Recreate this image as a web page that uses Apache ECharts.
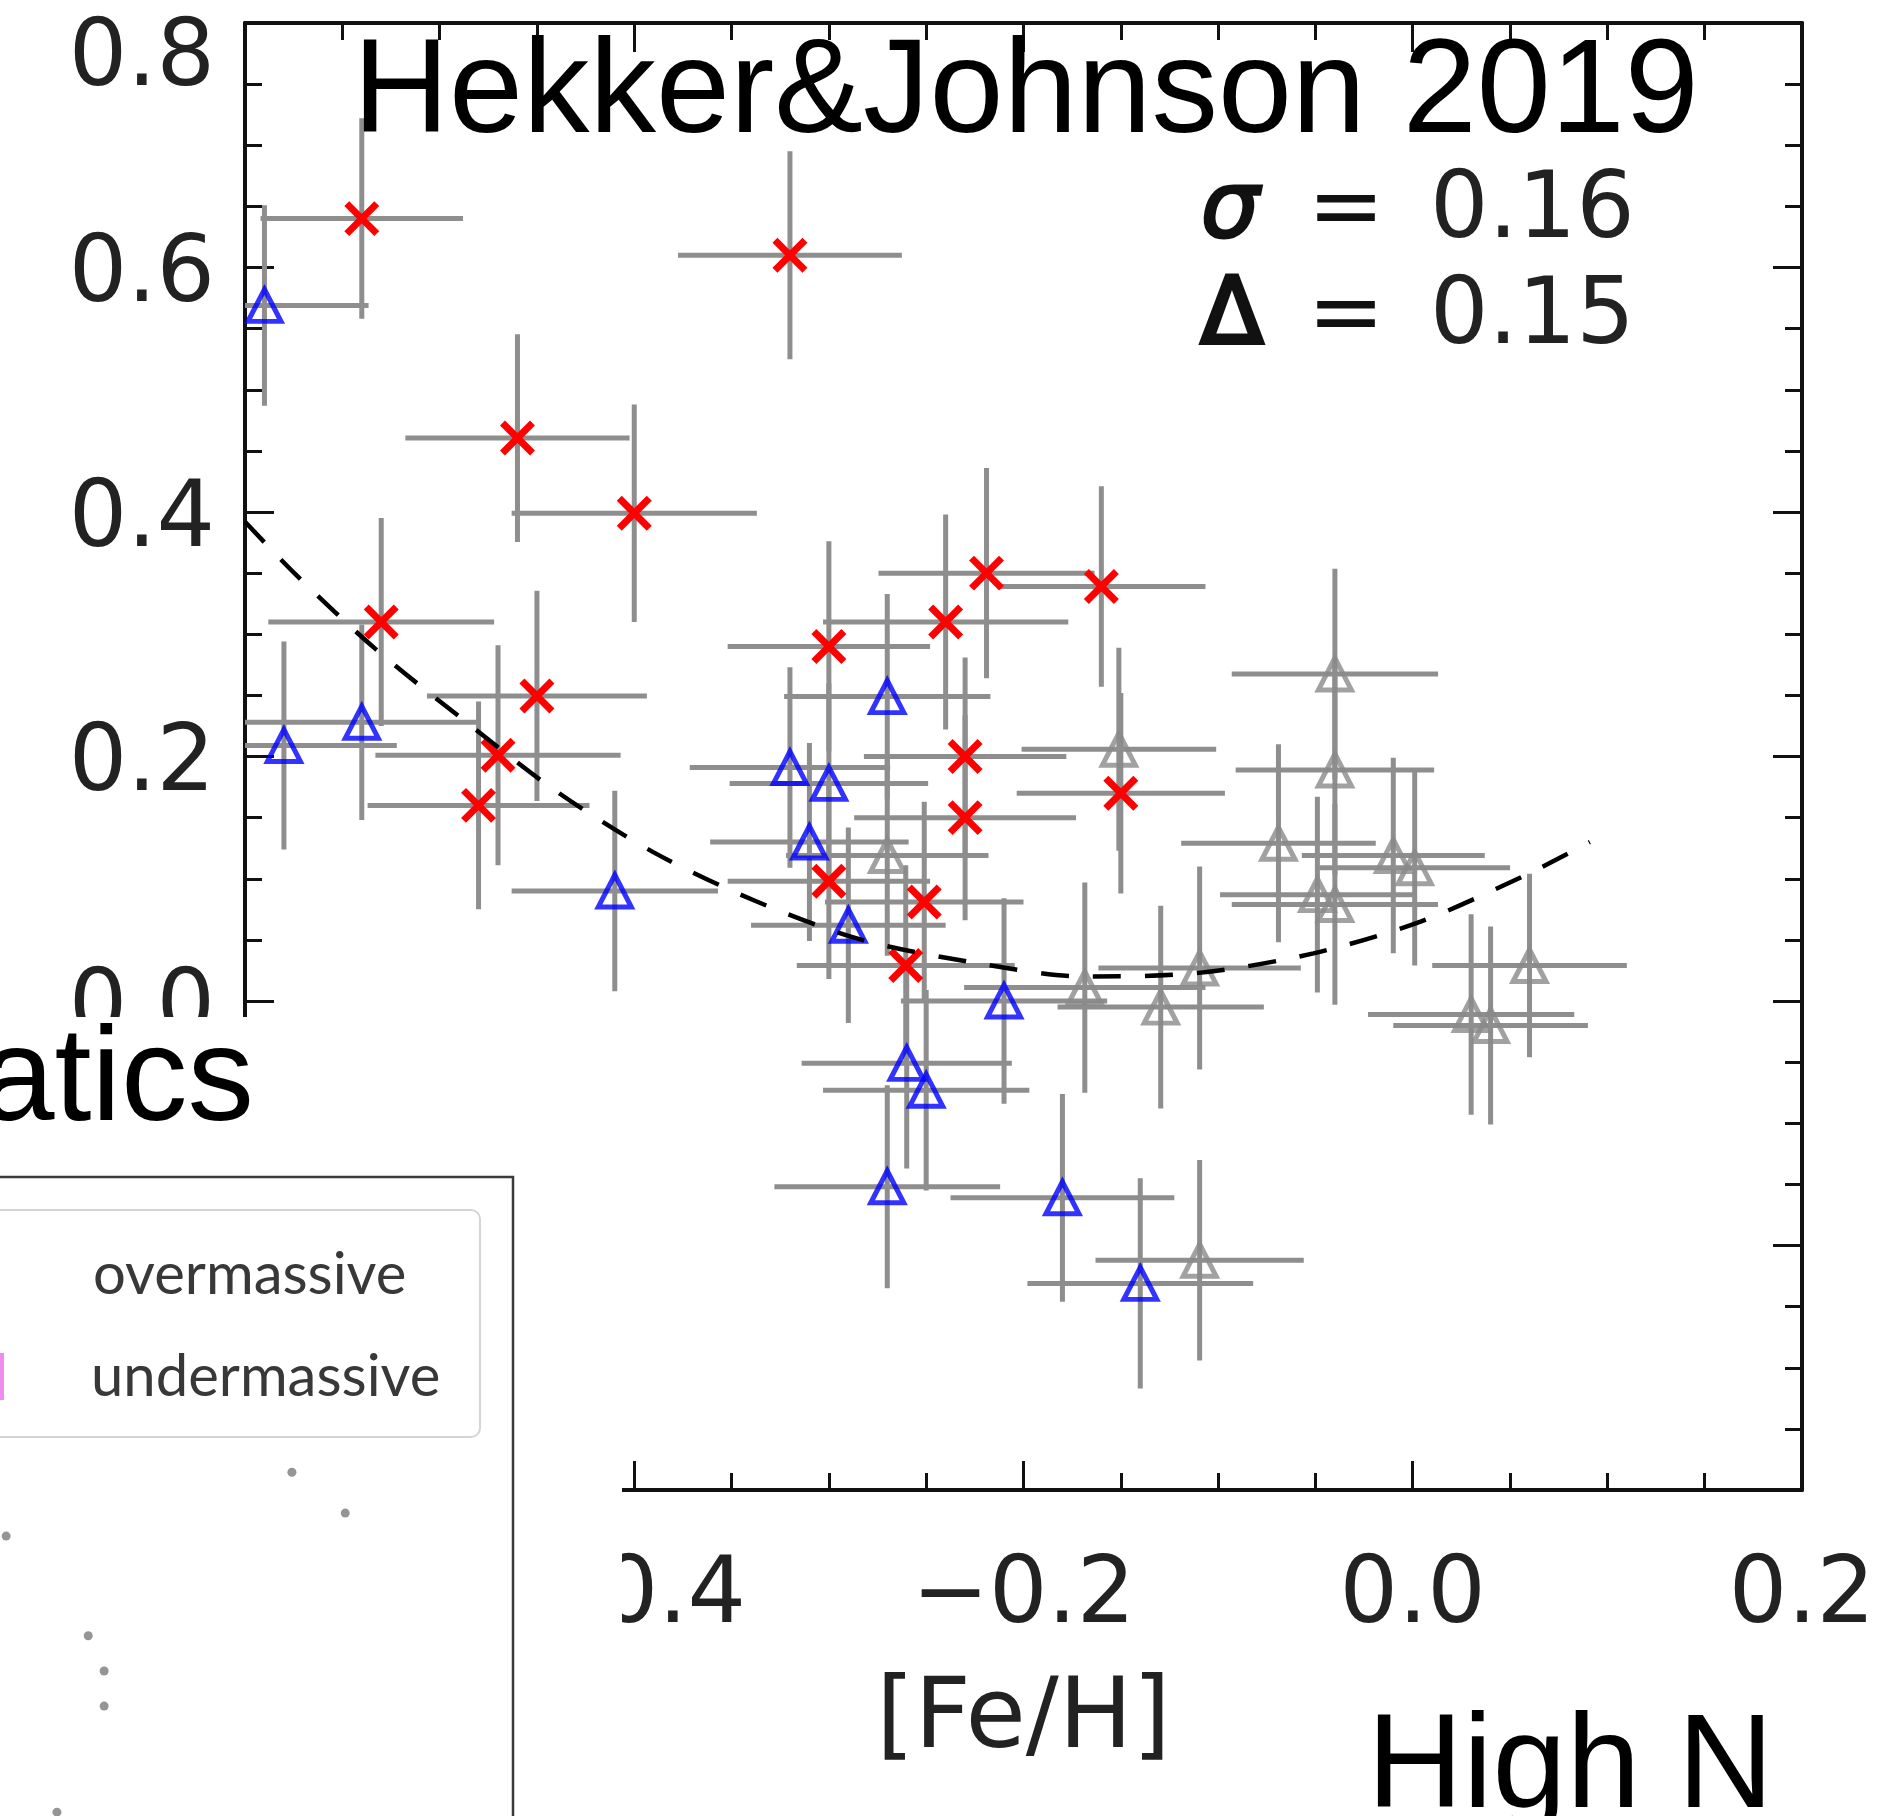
<!DOCTYPE html>
<html>
<head>
<meta charset="utf-8">
<script src="https://cdn.jsdelivr.net/npm/echarts@6/dist/echarts.min.js"></script>
<style>
html,body{margin:0;padding:0;background:#fff;}
#chart{width:1896px;height:1816px;}
</style>
</head>
<body>
<div id="chart"></div>
<script>
// ---- axis ranges / ticks ----
const X_MIN = -0.6, X_MAX = 0.2, X_STEP = 0.2;
const Y_MIN = -0.4, Y_MAX = 0.8, Y_STEP = 0.2;

// ---- overmassive (red crosses) ----
const redX    = [-0.540, -0.320, -0.460, -0.400, -0.530, -0.450, -0.470, -0.480, -0.219, -0.160, -0.240, -0.300, -0.300, -0.230, -0.230, -0.150, -0.251, -0.2605];
const redY    = [ 0.640,  0.610,  0.4605, 0.399,  0.310,  0.2495, 0.201,  0.160,  0.350,  0.339,  0.310,  0.290,  0.098,  0.200,  0.150,  0.170,  0.081,  0.029];
const redXErr = [ 0.052,  0.0575, 0.0576, 0.063,  0.058,  0.0565, 0.063,  0.057,  0.0555, 0.0535, 0.063,  0.052,  0.052,  0.052,  0.057,  0.0535, 0.051,  0.056];
const redYErr = [ 0.082,  0.085,  0.085,  0.089,  0.085,  0.086,  0.090,  0.085,  0.086,  0.082,  0.088,  0.086,  0.080,  0.081,  0.084,  0.082,  0.082,  0.082];

// ---- undermassive (blue triangles) ----
const blueX    = [-0.590, -0.580, -0.540, -0.410, -0.270, -0.320, -0.300, -0.310, -0.290, -0.210, -0.260, -0.250, -0.270, -0.180, -0.140];
const blueY    = [ 0.569,  0.209,  0.228,  0.090,  0.249,  0.191,  0.178,  0.130,  0.062,  0.000, -0.051, -0.073, -0.152, -0.161, -0.231];
const blueXErr = [ 0.0535, 0.058,  0.060,  0.053,  0.053,  0.0515, 0.051,  0.051,  0.050,  0.053,  0.054,  0.053,  0.058,  0.0575, 0.058];
const blueYErr = [ 0.082,  0.085,  0.080,  0.082,  0.084,  0.082,  0.082,  0.081,  0.080,  0.084,  0.086,  0.082,  0.083,  0.085,  0.086];

// ---- other stars (grey triangles) ----
const greyX    = [-0.270, -0.151, -0.040, -0.040, -0.069, -0.049, -0.040, -0.010,  0.001,  0.030,  0.040,  0.060, -0.1295, -0.1095, -0.1095, -0.1685];
const greyY    = [ 0.119,  0.206,  0.2675, 0.189,  0.129,  0.087,  0.079,  0.119,  0.109, -0.011, -0.020,  0.029, -0.005,   0.027,  -0.212,   0.011];
const greyXErr = [ 0.052,  0.050,  0.053,  0.051,  0.050,  0.050,  0.053,  0.047,  0.049,  0.053,  0.050,  0.050,  0.053,   0.052,   0.0535,  0.062];
const greyYErr = [ 0.082,  0.083,  0.086,  0.086,  0.081,  0.080,  0.082,  0.080,  0.080,  0.082,  0.081,  0.075,  0.083,   0.083,   0.082,   0.086];

// ---- dashed relation ----
const fitX = [-0.600, -0.574, -0.533, -0.487, -0.441, -0.3905, -0.338, -0.283, -0.224, -0.169, -0.110, -0.051, 0.004, 0.058, 0.091];
const fitY = [ 0.392,  0.349,  0.288,  0.229,  0.1726, 0.122,   0.082,  0.050,  0.031,  0.020,  0.023,  0.039, 0.065, 0.103, 0.130];

// ---- background panel dots (partly visible other chart), arbitrary 0-100 units ----
const bgDotU = [56.9, 67.3, 1.2, 17.2, 20.3, 20.3, 11.1];
const bgDotV = [53.8, 47.4, 43.8, 28.2, 22.7, 17.2, 0.6];

// ---- texts ----
const titleText = 'Hekker&Johnson 2019';
const sigmaText = '0.16';
const deltaText = '0.15';
const xName = '[Fe/H]';
const cornerText = 'High N';
const cutText = 'atics';
const legendTexts = ['overmassive', 'undermassive'];

const zip4 = (a, b, c, d) => a.map((v, i) => [v, b[i], c[i], d[i]]);
const errData = [].concat(zip4(redX, redY, redXErr, redYErr), zip4(blueX, blueY, blueXErr, blueYErr), zip4(greyX, greyY, greyXErr, greyYErr));

const fmt = v => {
  const a = Math.abs(v).toFixed(1);
  return (v < -1e-9 ? '\u2212' : '') + a;
};
const LABEL_FONT = 'DejaVu Sans';
const SANS = 'Liberation Sans';
const AX = '#111';

function axisCommon(pos, showLabel) {
  return {
    type: 'value', position: pos,
    axisLine: { show: true, onZero: false, lineStyle: { color: AX, width: 4 } },
    axisTick: { show: true, inside: true, length: 29, lineStyle: { color: AX, width: 3 } },
    minorTick: { show: true, splitNumber: 4, length: 17, lineStyle: { color: AX, width: 3 } },
    splitLine: { show: false },
    axisLabel: { show: showLabel }
  };
}

const xBottom = Object.assign(axisCommon('bottom', true), {
  min: X_MIN, max: X_MAX, interval: X_STEP, gridIndex: 0,
  name: xName, nameLocation: 'middle', nameGap: 183,
  nameTextStyle: { fontFamily: LABEL_FONT, fontSize: 98, color: '#222' }
});
xBottom.axisLabel = { show: true, margin: 62, formatter: fmt, fontFamily: LABEL_FONT, fontSize: 92, color: '#222' };
const xTop = Object.assign(axisCommon('top', false), { min: X_MIN, max: X_MAX, interval: X_STEP, gridIndex: 0 });
const yLeft = Object.assign(axisCommon('left', true), { min: Y_MIN, max: Y_MAX, interval: Y_STEP, gridIndex: 0 });
yLeft.axisLabel = {
  show: true, margin: 30, fontFamily: LABEL_FONT, fontSize: 92, color: '#222',
  formatter: v => Math.abs(v - Y_MAX) < 1e-6 ? '{top|' + fmt(v) + '}' : '{n|' + fmt(v) + '}',
  rich: {
    top: { padding: [76, 0, 0, 0], fontFamily: LABEL_FONT, fontSize: 92, color: '#222' },
    n: { padding: [20, 0, 0, 0], fontFamily: LABEL_FONT, fontSize: 92, color: '#222' }
  }
};
const yRight = Object.assign(axisCommon('right', false), { min: Y_MIN, max: Y_MAX, interval: Y_STEP, gridIndex: 0 });

const chart = echarts.init(document.getElementById('chart'), null, { renderer: 'canvas' });

const overlayZ = 1;
chart.setOption({
  animation: false,
  backgroundColor: '#fff',
  grid: [
    { left: 245, top: 23, width: 1557, height: 1467, containLabel: false, outerBoundsMode: 'none' },
    { left: 0, top: 1177, width: 513, height: 639, containLabel: false, outerBoundsMode: 'none' }
  ],
  xAxis: [xBottom, xTop, { type: 'value', gridIndex: 1, min: 0, max: 100, show: false }],
  yAxis: [yLeft, yRight, { type: 'value', gridIndex: 1, min: 0, max: 100, show: false }],
  series: [
    {
      type: 'custom', name: 'errors', xAxisIndex: 0, yAxisIndex: 0, z: 2,
      data: errData,
      renderItem: function (params, api) {
        const x = api.value(0), y = api.value(1), xe = api.value(2), ye = api.value(3);
        const l = api.coord([Math.max(x - xe, X_MIN), y]);
        const r = api.coord([Math.min(x + xe, X_MAX), y]);
        const t = api.coord([x, Math.min(y + ye, Y_MAX)]);
        const b = api.coord([x, Math.max(y - ye, Y_MIN)]);
        const st = { stroke: '#8e8e8e', lineWidth: 5 };
        return { type: 'group', children: [
          { type: 'line', shape: { x1: l[0], y1: l[1], x2: r[0], y2: r[1] }, style: st },
          { type: 'line', shape: { x1: t[0], y1: t[1], x2: b[0], y2: b[1] }, style: st }
        ] };
      }
    },
    {
      type: 'scatter', name: 'grey', xAxisIndex: 0, yAxisIndex: 0, z: 3,
      symbol: 'triangle', symbolSize: [33, 32],
      itemStyle: { color: 'rgba(0,0,0,0)', borderColor: '#8a8a8a', borderWidth: 5 },
      data: greyX.map((v, i) => [v, greyY[i]])
    },
    {
      type: 'scatter', name: 'undermassive', xAxisIndex: 0, yAxisIndex: 0, z: 4,
      symbol: 'triangle', symbolSize: [33, 32],
      itemStyle: { color: 'rgba(0,0,0,0)', borderColor: '#0000ff', borderWidth: 5 },
      data: blueX.map((v, i) => [v, blueY[i]])
    },
    {
      type: 'custom', name: 'overmassive', xAxisIndex: 0, yAxisIndex: 0, z: 5,
      data: redX.map((v, i) => [v, redY[i]]),
      renderItem: function (params, api) {
        const c = api.coord([api.value(0), api.value(1)]);
        const s = 15;
        const st = { stroke: '#ff0000', lineWidth: 7 };
        return { type: 'group', children: [
          { type: 'line', shape: { x1: c[0] - s, y1: c[1] - s, x2: c[0] + s, y2: c[1] + s }, style: st },
          { type: 'line', shape: { x1: c[0] - s, y1: c[1] + s, x2: c[0] + s, y2: c[1] - s }, style: st }
        ] };
      }
    },
    {
      type: 'line', name: 'relation', xAxisIndex: 0, yAxisIndex: 0, z: 6,
      showSymbol: false, smooth: 0.3,
      lineStyle: { color: '#000', width: 4.5, type: [28, 24] },
      data: fitX.map((v, i) => [v, fitY[i]])
    },
    {
      type: 'scatter', name: 'bg', xAxisIndex: 2, yAxisIndex: 2, zlevel: 2,
      symbolSize: 9, itemStyle: { color: '#7a7a7a' },
      data: bgDotU.map((v, i) => [v, bgDotV[i]])
    }
  ],
  graphic: [
    // title & stats
    { type: 'text', zlevel: overlayZ, z: 10, style: { text: titleText, x: 353, y: 95, verticalAlign: 'middle', font: '133px ' + SANS, fill: '#000' } },
    { type: 'text', zlevel: overlayZ, z: 10, style: { text: '\u03C3', x: 1230, y: 213, align: 'center', verticalAlign: 'middle', font: 'italic 92px ' + LABEL_FONT, fill: '#111', stroke: '#111', lineWidth: 3 } },
    { type: 'text', zlevel: overlayZ, z: 10, style: { text: '=', x: 1346, y: 213, align: 'center', verticalAlign: 'middle', font: '92px ' + LABEL_FONT, fill: '#111' } },
    { type: 'text', zlevel: overlayZ, z: 10, style: { text: sigmaText, x: 1430, y: 213, verticalAlign: 'middle', font: '92px ' + LABEL_FONT, fill: '#222' } },
    { type: 'text', zlevel: overlayZ, z: 10, style: { text: '\u0394', x: 1232, y: 319, align: 'center', verticalAlign: 'middle', font: '92px ' + LABEL_FONT, fill: '#111', stroke: '#111', lineWidth: 4 } },
    { type: 'text', zlevel: overlayZ, z: 10, style: { text: '=', x: 1346, y: 319, align: 'center', verticalAlign: 'middle', font: '92px ' + LABEL_FONT, fill: '#111' } },
    { type: 'text', zlevel: overlayZ, z: 10, style: { text: deltaText, x: 1430, y: 319, verticalAlign: 'middle', font: '92px ' + LABEL_FONT, fill: '#222' } },
    { type: 'text', zlevel: overlayZ, z: 10, style: { text: cornerText, x: 1367, y: 1770, verticalAlign: 'middle', font: '133px ' + SANS, fill: '#000' } },
    // overlay panel (slide content covering the lower-left corner)
    { type: 'rect', zlevel: overlayZ, z: 1, shape: { x: 0, y: 1017, width: 622, height: 800 }, style: { fill: '#fff' } },
    { type: 'text', zlevel: overlayZ, z: 5, style: { text: cutText, x: 254, y: 1083, align: 'right', verticalAlign: 'middle', font: '133px ' + SANS, fill: '#000' } },
    { type: 'rect', zlevel: overlayZ, z: 3, shape: { x: -20, y: 1177, width: 533, height: 700 }, style: { fill: '#fff', stroke: '#3a3a3a', lineWidth: 2.5 } },
    { type: 'rect', zlevel: overlayZ, z: 4, shape: { x: -20, y: 1210, width: 500, height: 227, r: 9 }, style: { fill: '#fff', stroke: '#d4d4d4', lineWidth: 2 } },
    { type: 'rect', zlevel: overlayZ, z: 5, shape: { x: 0, y: 1353, width: 4, height: 47 }, style: { fill: '#f08cf0' } },
    { type: 'text', zlevel: overlayZ, z: 5, style: { text: legendTexts[0], x: 93, y: 1275, verticalAlign: 'middle', font: '58px Lato', fill: '#383838' } },
    { type: 'text', zlevel: overlayZ, z: 5, style: { text: legendTexts[1], x: 91, y: 1377, verticalAlign: 'middle', font: '58px Lato', fill: '#383838' } }
  ]
});
</script>
</body>
</html>
